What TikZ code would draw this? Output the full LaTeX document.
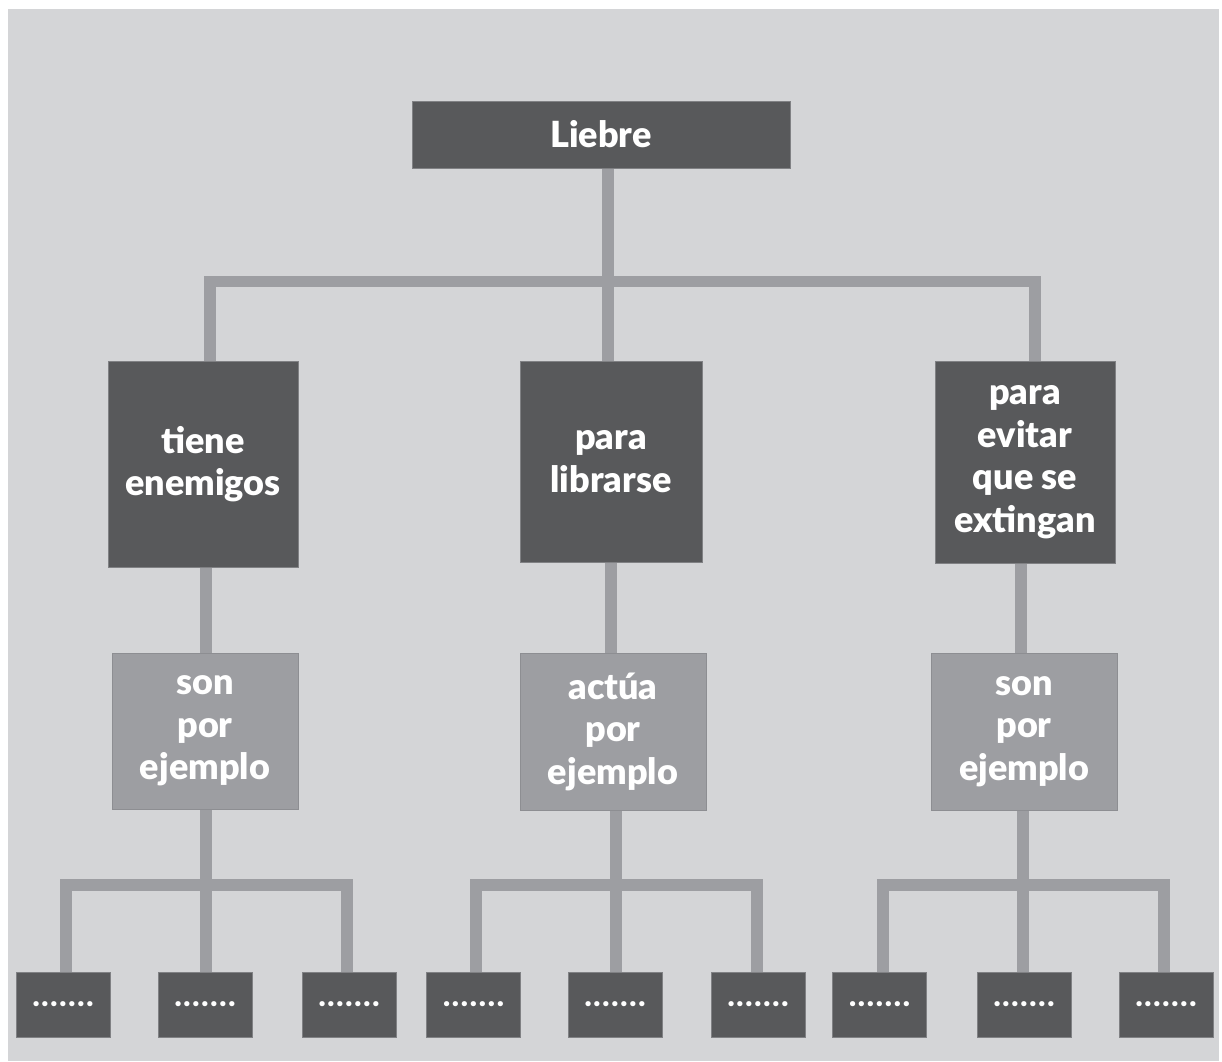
\documentclass[tikz,border=0pt]{standalone}
\usepackage{fontspec}
\setmainfont{Lato}[UprightFont=* Black]
\usetikzlibrary{backgrounds}
\pgfdeclarelayer{canvasbg}
\pgfsetlayers{canvasbg,background,main}
\definecolor{bgc}{HTML}{D4D5D7}
\definecolor{darkc}{HTML}{58595B}
\definecolor{lightc}{HTML}{9D9EA2}
\definecolor{linec}{HTML}{9D9EA2}
\definecolor{edgec}{HTML}{808184}
\tikzset{
  darkbox/.style={fill=darkc, draw=edgec, line width=0.8pt, inner sep=0pt, text=white, align=center, font=\fontsize{36}{42.5}\selectfont},
  lightbox/.style={fill=lightc, draw=lightc!90!black, line width=0.8pt, inner sep=0pt, text=white, align=center, font=\fontsize{36}{42.5}\selectfont},
  dotbox/.style={fill=darkc, draw=edgec, line width=0.8pt, inner sep=0pt, text=white, minimum width=94pt, minimum height=65pt, font=\fontsize{30}{30}\selectfont},
  conn/.style={draw=linec, line width=11.5pt, line join=miter},
}
\newcommand{\mydots}{.\kern1.8pt.\kern1.8pt.\kern1.8pt.\kern1.8pt.\kern1.8pt.\kern1.8pt.}
\begin{document}
\begin{tikzpicture}[x=1pt,y=-1pt]
\useasboundingbox (0,0) rectangle (1222,1061);
\begin{pgfonlayer}{canvasbg}
\fill[white] (0,0) rectangle (1222,1061);
\fill[bgc] (8,9) rectangle (1219,1061);
\end{pgfonlayer}
% nodes
\node[darkbox, minimum width=378pt, minimum height=67pt] (root) at (601,134.5) {Liebre};
\node[darkbox, minimum width=190pt, minimum height=206pt] (a1) at (203,464) {tiene\\enemigos};
\node[darkbox, minimum width=182pt, minimum height=201pt] (a2) at (611,461.5) {para\\librarse};
\node[darkbox, minimum width=180pt, minimum height=202pt] (a3) at (1025,462) {para\\evitar\\que se\\extingan};
\node[lightbox, minimum width=186pt, minimum height=156pt] (b1) at (205,731) {son\\por\\ejemplo};
\node[lightbox, minimum width=186pt, minimum height=157pt] (b2) at (613,731.5) {actúa\\por\\ejemplo};
\node[lightbox, minimum width=186pt, minimum height=157pt] (b3) at (1024,731.5) {son\\por\\ejemplo};
\node[dotbox] (c11) at (63,1004.5) {\mydots};
\node[dotbox] (c12) at (205,1004.5) {\mydots};
\node[dotbox] (c13) at (349,1004.5) {\mydots};
\node[dotbox] (c21) at (473.5,1004.5) {\mydots};
\node[dotbox] (c22) at (615,1004.5) {\mydots};
\node[dotbox] (c23) at (758,1004.5) {\mydots};
\node[dotbox] (c31) at (879.5,1004.5) {\mydots};
\node[dotbox] (c32) at (1024,1004.5) {\mydots};
\node[dotbox] (c33) at (1166,1004.5) {\mydots};
% junction coordinates
\coordinate (j0) at (608,281.5);
\coordinate (j1) at (206,885);
\coordinate (j2) at (616,885);
\coordinate (j3) at (1023,885);
% connectors (behind nodes)
\begin{pgfonlayer}{background}
\draw[conn] (root.south -| j0) -- (a2.north -| j0);
\draw[conn] (a1.north -| 210,0) |- (j0) -| (a3.north -| 1035,0);
\draw[conn] (a1.south -| 206,0) -- (b1.north -| 206,0);
\draw[conn] (a2.south -| 611,0) -- (b2.north -| 611,0);
\draw[conn] (a3.south -| 1021,0) -- (b3.north -| 1021,0);
\draw[conn] (b1.south -| j1) -- (c12.north -| j1);
\draw[conn] (c11.north -| 66,0) |- (j1) -| (c13.north -| 347,0);
\draw[conn] (b2.south -| j2) -- (c22.north -| j2);
\draw[conn] (c21.north -| 476,0) |- (j2) -| (c23.north -| 757,0);
\draw[conn] (b3.south -| j3) -- (c32.north -| j3);
\draw[conn] (c31.north -| 883,0) |- (j3) -| (c33.north -| 1164,0);
\end{pgfonlayer}
\end{tikzpicture}
\end{document}
